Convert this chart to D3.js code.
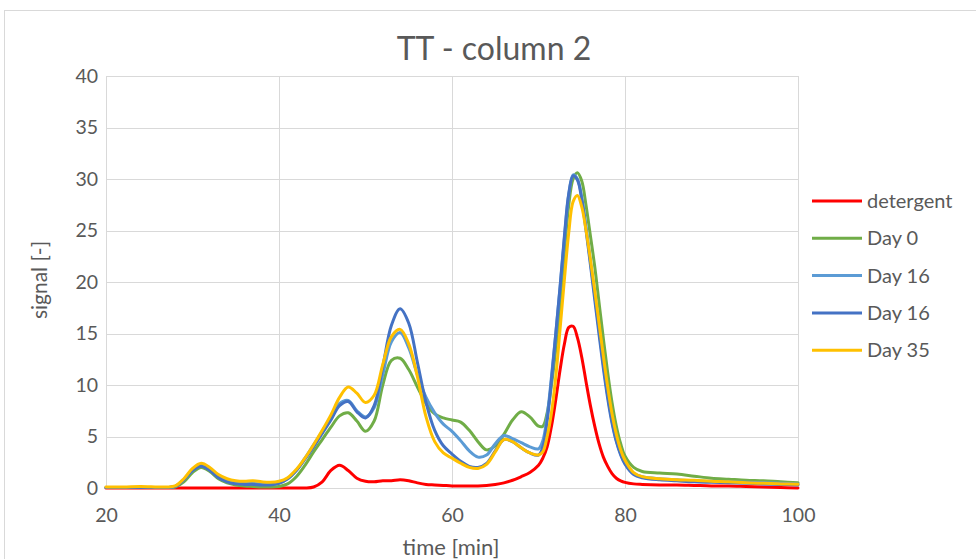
<!DOCTYPE html>
<html>
<head>
<meta charset="utf-8">
<script src="https://cdn.jsdelivr.net/npm/d3@7"></script>
<style>
  html, body { margin: 0; padding: 0; background: #ffffff; }
  svg { display: block; font-family: Lato, "Open Sans", "Liberation Sans", sans-serif; }
</style>
</head>
<body>
<svg id="chart" width="976" height="559"></svg>
<script>
// Elution times (min)
const time = [20,22,24,26,27,28,29,30,31,32,33,34,35,36,37,38,39,40,41,42,43,44,45,46,47,48,49,50,
  51,52,53,54,55,56,57,58,59,60,61,62,63,64,65,66,67,68,69,70,70.5,71,71.5,72,72.5,73,73.5,74,74.5,
  75,75.5,76,76.5,77,77.5,78,78.5,79,79.5,80,81,82,84,86,88,90,92,94,96,98,100];

const detergent = [0,0,0,0,0,0,0,0,0,0,0,0,0,0,0,0,0,0,0,0,0,0.1,0.6,1.7,2.2,1.7,0.95,0.65,
  0.6,0.7,0.7,0.8,0.7,0.5,0.35,0.3,0.25,0.2,0.2,0.2,0.2,0.25,0.35,0.5,0.75,1.1,1.5,2.2,2.9,4.0,6.0,8.6,11.5,14.0,15.6,15.7,14.6,
  12.7,10.3,8.0,6.0,4.3,3.0,2.1,1.4,0.95,0.7,0.55,0.4,0.35,0.3,0.3,0.25,0.2,0.2,0.15,0.1,0.05,0];

const day0 = [0.05,0.05,0.05,0.05,0.05,0.1,0.6,1.5,2.0,1.6,0.9,0.5,0.3,0.2,0.15,0.1,0.1,0.15,0.4,1.1,2.2,3.5,4.7,5.9,7.0,7.3,6.5,5.5,
  6.5,10.0,12.4,12.6,11.5,9.8,8.2,7.2,6.8,6.6,6.4,5.6,4.5,3.7,4.1,5.2,6.6,7.4,6.9,6.0,6.0,7.3,10.0,13.5,18.0,23.0,27.5,30.0,30.6,
  29.8,27.4,24.5,21.5,18.0,14.5,11.2,8.3,6.0,4.3,3.1,2.0,1.6,1.45,1.35,1.15,0.95,0.85,0.75,0.7,0.6,0.52];

const day16a = [0.05,0.05,0.05,0.05,0.05,0.15,0.8,1.7,2.2,1.8,1.1,0.7,0.5,0.45,0.45,0.4,0.4,0.5,0.9,1.7,2.9,4.2,5.5,6.9,8.2,8.5,7.5,6.9,
  7.8,11.0,14.2,15.1,13.6,11.0,8.8,7.3,6.2,5.5,4.6,3.6,3.0,3.2,4.3,5.1,4.8,4.4,4.0,3.8,4.6,7.0,10.8,15.0,19.5,24.3,28.5,30.4,30.0,
  28.2,25.3,22.0,18.7,15.3,12.0,9.0,6.5,4.6,3.3,2.4,1.4,1.1,0.9,0.8,0.7,0.65,0.6,0.55,0.5,0.45,0.4];

const day16b = [0.05,0.05,0.05,0.05,0.05,0.15,0.8,1.7,2.1,1.7,1.0,0.6,0.4,0.35,0.35,0.3,0.3,0.45,0.9,1.7,2.8,4.0,5.3,6.6,8.0,8.4,7.4,6.8,
  8.0,11.8,15.8,17.4,16.0,12.2,8.3,5.6,4.1,3.3,2.6,2.1,2.0,2.4,3.6,4.7,4.5,3.9,3.4,3.2,4.0,6.5,10.5,15.0,19.6,24.5,28.6,30.3,29.9,
  28.0,25.0,21.7,18.3,14.9,11.6,8.7,6.3,4.5,3.2,2.3,1.3,1.0,0.8,0.7,0.6,0.55,0.5,0.45,0.4,0.35,0.3];

const day35 = [0.1,0.1,0.15,0.1,0.1,0.2,0.9,1.9,2.4,2.0,1.3,0.9,0.7,0.65,0.7,0.6,0.55,0.65,1.0,1.8,2.9,4.2,5.6,7.1,8.8,9.8,9.2,8.3,
  9.0,12.0,14.7,15.4,14.0,10.8,6.9,4.5,3.4,2.9,2.4,2.0,1.9,2.3,3.5,4.7,4.5,3.9,3.4,3.2,3.5,5.0,7.3,10.8,15.5,20.3,24.8,27.8,28.4,
  27.3,25.0,22.2,19.2,16.0,12.8,9.8,7.2,5.2,3.7,2.7,1.5,1.1,0.9,0.8,0.75,0.65,0.6,0.5,0.45,0.4,0.36];

const seriesNames = ["detergent", "Day 0", "Day 16", "Day 16", "Day 35"];
const seriesColors = ["#FF0000", "#70AD47", "#5B9BD5", "#4472C4", "#FFC000"];
const seriesValues = [detergent, day0, day16a, day16b, day35];

const xTicks = [20, 40, 60, 80, 100];
const yTicks = [0, 5, 10, 15, 20, 25, 30, 35, 40];

const svg = d3.select("#chart");
const plot = { left: 106, right: 798, top: 76, bottom: 488 };

const x = d3.scaleLinear().domain([20, 100]).range([plot.left, plot.right]);
const y = d3.scaleLinear().domain([0, 40]).range([plot.bottom, plot.top]);

// chart frame
svg.append("rect")
  .attr("x", 4.5).attr("y", 10.5)
  .attr("width", 1000).attr("height", 600)
  .attr("fill", "#ffffff").attr("stroke", "#d9d9d9").attr("stroke-width", 1);

// title
svg.append("text")
  .attr("x", 494).attr("y", 60)
  .attr("text-anchor", "middle")
  .attr("fill", "#595959")
  .attr("font-size", 32)
  .text("TT - column 2");

// gridlines
const grid = svg.append("g").attr("stroke", "#d9d9d9").attr("stroke-width", 1);
grid.selectAll("line.h").data(yTicks).join("line")
  .attr("class", "h")
  .attr("x1", plot.left).attr("x2", plot.right)
  .attr("y1", d => Math.round(y(d)) + 0.5).attr("y2", d => Math.round(y(d)) + 0.5);
grid.selectAll("line.v").data(xTicks).join("line")
  .attr("class", "v")
  .attr("y1", plot.top).attr("y2", plot.bottom)
  .attr("x1", d => Math.round(x(d)) + 0.5).attr("x2", d => Math.round(x(d)) + 0.5);

// axes (labels only; the gridlines carry the rules)
const xAxis = svg.append("g")
  .attr("transform", `translate(0,${plot.bottom})`)
  .call(d3.axisBottom(x).tickValues(xTicks).tickSize(0).tickPadding(20));
const yAxis = svg.append("g")
  .attr("transform", `translate(${plot.left},0)`)
  .call(d3.axisLeft(y).tickValues(yTicks).tickSize(0).tickPadding(8));
[xAxis, yAxis].forEach(a => {
  a.select(".domain").remove();
  a.selectAll("text")
    .attr("fill", "#595959")
    .attr("font-size", 19.5)
    .attr("font-family", "Lato, 'Open Sans', sans-serif");
});

// axis titles
svg.append("text")
  .attr("x", 451).attr("y", 555)
  .attr("text-anchor", "middle")
  .attr("fill", "#595959").attr("font-size", 22)
  .text("time [min]");
svg.append("text")
  .attr("transform", "translate(47,280) rotate(-90)")
  .attr("text-anchor", "middle")
  .attr("fill", "#595959").attr("font-size", 21)
  .text("signal [-]");

// series
const line = d3.line()
  .x(d => x(d[0]))
  .y(d => y(d[1]))
  .curve(d3.curveCatmullRom.alpha(0.5));

const lines = svg.append("g").attr("fill", "none")
  .attr("stroke-width", 3).attr("stroke-linejoin", "round").attr("stroke-linecap", "round");
seriesValues.forEach((vals, i) => {
  lines.append("path")
    .datum(time.map((t, k) => [t, vals[k]]))
    .attr("stroke", seriesColors[i])
    .attr("d", line);
});

// legend
const legend = svg.append("g");
seriesNames.forEach((name, i) => {
  const ly = 201 + i * 37.3;
  legend.append("line")
    .attr("x1", 812).attr("x2", 862)
    .attr("y1", ly).attr("y2", ly)
    .attr("stroke", seriesColors[i]).attr("stroke-width", 3);
  legend.append("text")
    .attr("x", 867).attr("y", ly + 7)
    .attr("fill", "#595959").attr("font-size", 20)
    .text(name);
});
</script>
</body>
</html>
